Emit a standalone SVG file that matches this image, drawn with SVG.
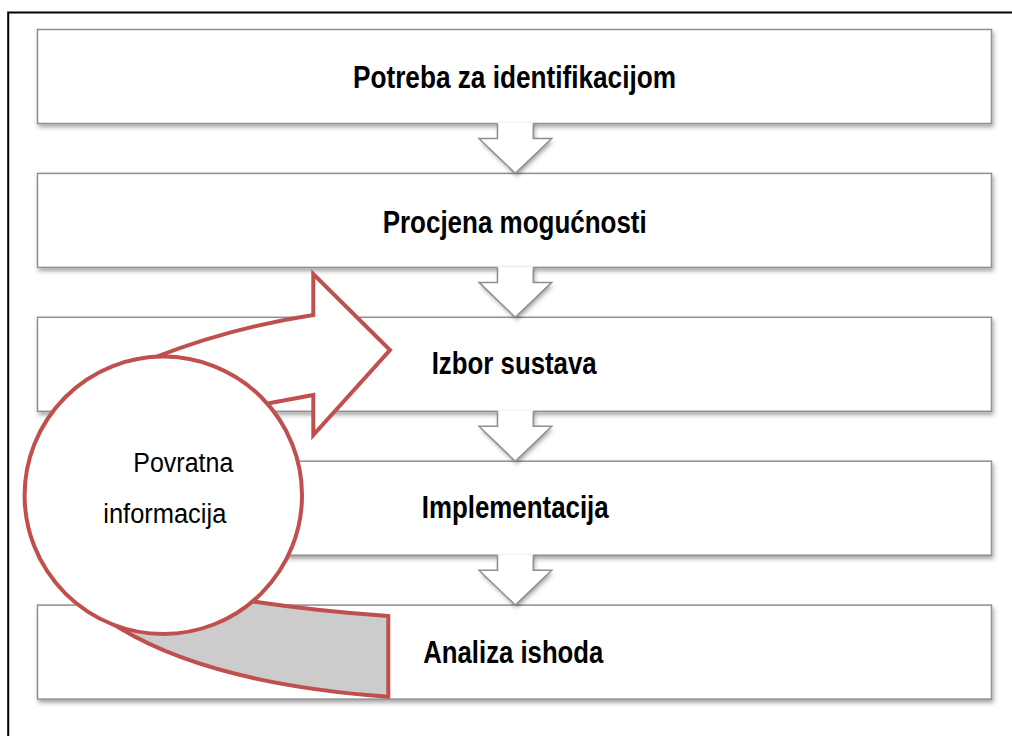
<svg xmlns="http://www.w3.org/2000/svg" width="1012" height="736" viewBox="0 0 1012 736">
<defs>
<filter id="sh" x="-5%" y="-10%" width="115%" height="130%">
<feDropShadow dx="1.5" dy="3" stdDeviation="2" flood-color="#000" flood-opacity="0.35"/>
</filter>
<style>
.box{fill:#fff;stroke:#8f8f8f;stroke-width:1.5;filter:url(#sh)}
.lbl{font-family:"Liberation Sans",Arial,sans-serif;font-weight:bold;font-size:32px;fill:#000}
.fb{font-family:"Liberation Sans",Arial,sans-serif;font-size:27px;fill:#000}
.afill{fill:#fff;stroke:none}
.aline{fill:none;stroke:#8f8f8f;stroke-width:1.5}
.red{stroke:#C0504D;stroke-width:4;stroke-linejoin:miter}
</style>
</defs>
<rect width="1012" height="736" fill="#fff"/>
<path d="M8.2,736 V12.5 H1012" fill="none" stroke="#000" stroke-width="2"/>

<g id="node1">
<rect class="box" x="37.5" y="29.5" width="954" height="94"/>
<text class="lbl" x="353" y="88" textLength="323" lengthAdjust="spacingAndGlyphs">Potreba za identifikacijom</text>
</g>
<g id="node2">
<rect class="box" x="37.5" y="173.4" width="954" height="94"/>
<text class="lbl" x="382.7" y="233" textLength="264" lengthAdjust="spacingAndGlyphs">Procjena mogućnosti</text>
</g>
<g id="node3">
<rect class="box" x="37.5" y="317.3" width="954" height="94"/>
<text class="lbl" x="431.7" y="374" textLength="165" lengthAdjust="spacingAndGlyphs">Izbor sustava</text>
</g>
<g id="node4">
<rect class="box" x="37.5" y="461.2" width="954" height="94"/>
<text class="lbl" x="421.7" y="518" textLength="187" lengthAdjust="spacingAndGlyphs">Implementacija</text>
</g>
<g id="node5">
<rect class="box" x="37.5" y="605.1" width="954" height="94"/>
<text class="lbl" x="423.3" y="663" textLength="180" lengthAdjust="spacingAndGlyphs">Analiza ishoda</text>
</g>

<g id="connectors">
<g filter="url(#sh)">
<polygon class="afill" points="497.5,122.5 497.5,138.5 479,138.5 515.3,173.4 551.7,138.5 533.3,138.5 533.3,122.5"/>
<polygon class="afill" points="497.5,266.4 497.5,282.4 479,282.4 515.3,317.3 551.7,282.4 533.3,282.4 533.3,266.4"/>
<polygon class="afill" points="497.5,410.3 497.5,426.3 479,426.3 515.3,461.2 551.7,426.3 533.3,426.3 533.3,410.3"/>
<polygon class="afill" points="497.5,554.2 497.5,570.2 479,570.2 515.3,605.1 551.7,570.2 533.3,570.2 533.3,554.2"/>
</g>
<polyline class="aline" points="497.5,123.5 497.5,138.5 479,138.5 515.3,173.4 551.7,138.5 533.3,138.5 533.3,123.5"/>
<polyline class="aline" points="497.5,267.4 497.5,282.4 479,282.4 515.3,317.3 551.7,282.4 533.3,282.4 533.3,267.4"/>
<polyline class="aline" points="497.5,411.3 497.5,426.3 479,426.3 515.3,461.2 551.7,426.3 533.3,426.3 533.3,411.3"/>
<polyline class="aline" points="497.5,555.2 497.5,570.2 479,570.2 515.3,605.1 551.7,570.2 533.3,570.2 533.3,555.2"/>
<g id="feedback-arrow">
<path class="red" fill="#fff" d="M141.7,362.5 L156.7,356.7 Q231.6,327.5 313.3,315 L313.3,274 L390,350 L313.3,435 L313.3,395 L271.7,402.7 L240,410 Z"/>
<path class="red" fill="#cccccc" d="M101.5,617.1 L120,628.3 Q212.5,684.1 388.3,696.7 L388.3,616 Q318.35,611.15 255,601.7 L242.3,599.8 Z"/>
</g>
</g>

<g id="node-feedback">
<circle cx="163.3" cy="495.3" r="138.7" fill="#fff" stroke="#C0504D" stroke-width="4"/>
<text class="fb" x="133.3" y="471.7" textLength="100" lengthAdjust="spacingAndGlyphs">Povratna</text>
<text class="fb" x="103.3" y="523" textLength="123" lengthAdjust="spacingAndGlyphs">informacija</text>
</g>
</svg>
